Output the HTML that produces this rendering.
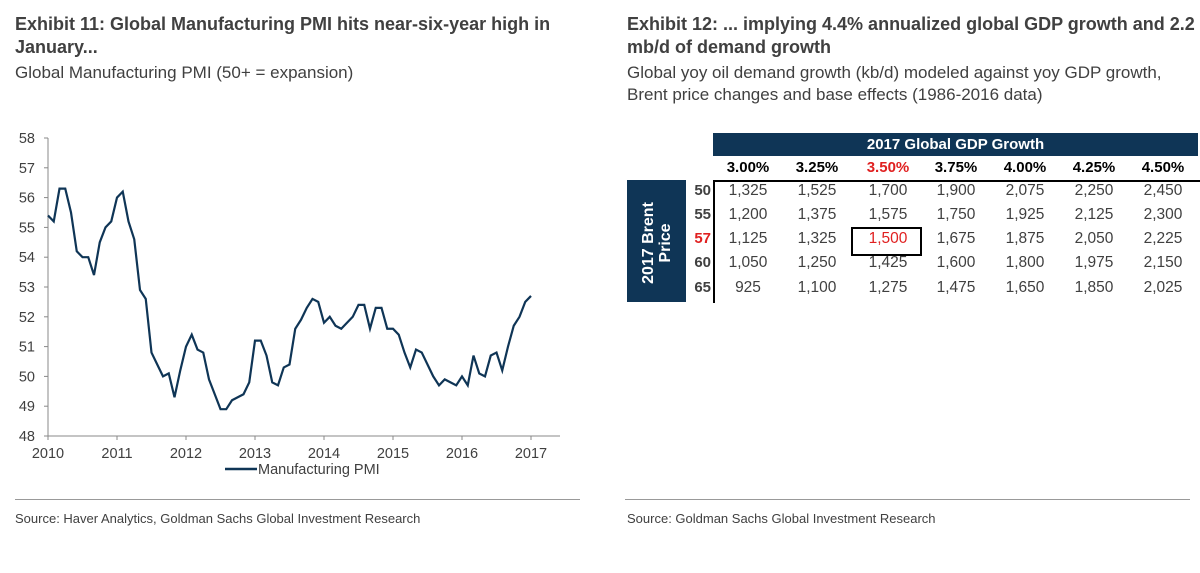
<!DOCTYPE html>
<html><head><meta charset="utf-8"><style>
body{margin:0;width:1200px;height:573px;background:#fff;font-family:"Liberation Sans Narrow","Liberation Sans",sans-serif;color:#404040;position:relative;overflow:hidden}
.t{position:absolute;white-space:nowrap}
.title{font-weight:bold;font-size:18px;color:#404040;line-height:23px}
.sub{font-size:17px;line-height:22px;color:#404040}
.src{font-size:13px;color:#404040}
.hr{position:absolute;height:1px;background:#999}
</style></head><body>
<div class="t title" style="left:15px;top:13px">Exhibit 11: Global Manufacturing PMI hits near-six-year high in<br>January...</div>
<div class="t sub" style="left:15px;top:62px">Global Manufacturing PMI (50+ = expansion)</div>
<svg id="chart" style="position:absolute;left:0;top:120px" width="600" height="370"></svg>
<div class="hr" style="left:15px;top:499px;width:565px"></div>
<div class="t src" style="left:15px;top:511px">Source: Haver Analytics, Goldman Sachs Global Investment Research</div>

<div class="t title" style="left:627px;top:13px">Exhibit 12: ... implying 4.4% annualized global GDP growth and 2.2<br>mb/d of demand growth</div>
<div class="t sub" style="left:627px;top:62px">Global yoy oil demand growth (kb/d) modeled against yoy GDP growth,<br>Brent price changes and base effects (1986-2016 data)</div>
<div id="tbl"></div>
<div class="hr" style="left:625px;top:499px;width:565px"></div>
<div class="t src" style="left:627px;top:511px">Source: Goldman Sachs Global Investment Research</div>

<script>
const years=["2010","2011","2012","2013","2014","2015","2016","2017"];
const yTicks=[48,49,50,51,52,53,54,55,56,57,58];
const pmi=[55.4,55.2,56.3,56.3,55.5,54.2,54.0,54.0,53.4,54.5,55.0,55.2,
56.0,56.2,55.2,54.6,52.9,52.6,50.8,50.4,50.0,50.1,49.3,50.2,
51.0,51.4,50.9,50.8,49.9,49.4,48.9,48.9,49.2,49.3,49.4,49.8,
51.2,51.2,50.7,49.8,49.7,50.3,50.4,51.6,51.9,52.3,52.6,52.5,
51.8,52.0,51.7,51.6,51.8,52.0,52.4,52.4,51.6,52.3,52.3,51.6,
51.6,51.4,50.8,50.3,50.9,50.8,50.4,50.0,49.7,49.9,49.8,49.7,
50.0,49.7,50.7,50.1,50.0,50.7,50.8,50.2,51.0,51.7,52.0,52.5,52.7];
const NS="http://www.w3.org/2000/svg";
const svg=document.getElementById('chart');
const x0=48,x1=531,yTop=18,yBot=316;
const X=m=>x0+(x1-x0)*m/84;
const Y=v=>yBot-(v-48)/10*(yBot-yTop);
function mk(t,a){const e=document.createElementNS(NS,t);for(const k in a)e.setAttribute(k,a[k]);svg.appendChild(e);return e;}
let ax=mk('line',{x1:x0,y1:yTop,x2:x0,y2:yBot,stroke:'#888'});

let bx=mk('line',{x1:x0,y1:yBot,x2:560,y2:yBot,stroke:'#888'});

yTicks.forEach(v=>{mk('line',{x1:x0-4,y1:Y(v),x2:x0,y2:Y(v),stroke:'#888'});
 const t=mk('text',{x:x0-13,y:Y(v)+5,'text-anchor':'end','font-size':14.5,fill:'#404040','font-family':'Liberation Sans Narrow, Liberation Sans, sans-serif'});t.textContent=v;
 });
years.forEach((y,i)=>{const xx=X(i*12);mk('line',{x1:xx,y1:yBot,x2:xx,y2:yBot+4,stroke:'#888'});
 const t=mk('text',{x:xx,y:yBot+22,'text-anchor':'middle','font-size':14.5,fill:'#404040','font-family':'Liberation Sans Narrow, Liberation Sans, sans-serif'});t.textContent=y;
 });
const line=mk('polyline',{points:pmi.map((v,i)=>X(i)+','+Y(v)).join(' '),fill:'none',stroke:'#0f3556','stroke-width':2.2});

mk('line',{x1:225,y1:349,x2:257,y2:349,stroke:'#0f3556','stroke-width':2.5});
const lg=mk('text',{x:258,y:354,'font-size':14.5,fill:'#404040','font-family':'Liberation Sans Narrow, Liberation Sans, sans-serif'});lg.textContent='Manufacturing PMI';


// table
const gdp=["3.00%","3.25%","3.50%","3.75%","4.00%","4.25%","4.50%"];
const brent=["50","55","57","60","65"];
const vals=[["1,325","1,525","1,700","1,900","2,075","2,250","2,450"],
["1,200","1,375","1,575","1,750","1,925","2,125","2,300"],
["1,125","1,325","1,500","1,675","1,875","2,050","2,225"],
["1,050","1,250","1,425","1,600","1,800","1,975","2,150"],
["925","1,100","1,275","1,475","1,650","1,850","2,025"]];
const tbl=document.getElementById('tbl');
let h='';
h+='<div class="t" style="left:713px;top:133px;width:485px;height:23px;background:#0f3556;color:#fff;font-weight:bold;font-size:15px;text-align:center;line-height:23px">2017 Global GDP Growth</div>';
h+='<div class="t" style="left:627px;top:180px;width:59px;height:122px;background:#0f3556"></div>';
h+='<div class="t" style="left:596px;top:226px;width:122px;height:34px;transform:rotate(-90deg);color:#fff;font-weight:bold;font-size:16px;text-align:center;line-height:17px;white-space:normal">2017 Brent<br>Price</div>';
h+='<div class="hr" style="left:713px;top:180px;width:487px;background:#000;height:1.5px"></div>';
h+='<div class="t" style="left:713px;top:180px;width:1.5px;height:123px;background:#000"></div>';
const cx=[748,817,888,956,1025,1094,1163],ry=[192,216,240,264,289];
gdp.forEach((g,i)=>{h+=`<div class="t" style="left:${cx[i]-35}px;top:159px;width:70px;text-align:center;font-weight:bold;font-size:15px;color:${i==2?'#e02020':'#000'}">${g}</div>`;});
brent.forEach((b,r)=>{h+=`<div class="t" style="left:688px;top:${ry[r]-10}px;width:23px;text-align:right;font-weight:bold;font-size:15px;color:${r==2?'#e02020':'#404040'}">${b}</div>`;
 vals[r].forEach((v,c)=>{h+=`<div class="t" style="left:${cx[c]-35}px;top:${ry[r]-10}px;width:70px;text-align:center;font-size:15.5px;color:${(r==2&&c==2)?'#e02020':'#404040'}">${v}</div>`;});});
h+='<div class="t" style="left:851px;top:227px;width:67px;height:25px;border:2px solid #000"></div>';
tbl.innerHTML=h;
</script>
</body></html>
